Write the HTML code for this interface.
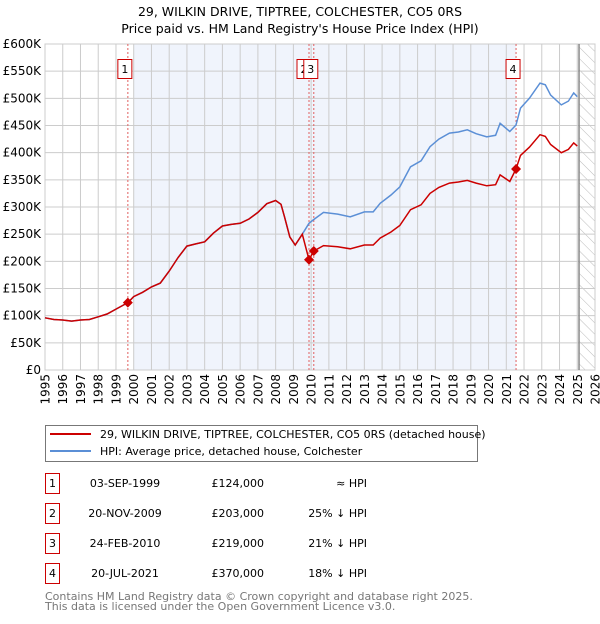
<!DOCTYPE html>
<html><head><meta charset="utf-8">
<style>
body{margin:0;background:#fff;font-family:"DejaVu Sans","Liberation Sans",sans-serif;}
svg text{font-family:"DejaVu Sans","Liberation Sans",sans-serif;}
</style></head>
<body>
<svg id="chart" width="600" height="620" xmlns="http://www.w3.org/2000/svg">
<defs>
<pattern id="hatch" patternUnits="userSpaceOnUse" width="8" height="8" patternTransform="rotate(-45)">
<line x1="0" y1="0" x2="0" y2="8" stroke="#bbb" stroke-width="1"/>
</pattern>
</defs>
<text x="300" y="16" text-anchor="middle" font-size="12.5" fill="#000">29, WILKIN DRIVE, TIPTREE, COLCHESTER, CO5 0RS</text>
<text x="300" y="33" text-anchor="middle" font-size="12.5" fill="#000">Price paid vs. HM Land Registry's House Price Index (HPI)</text>
<g id="plot"></g>
<g>
<rect x="45.5" y="425.5" width="432" height="36" fill="#fff" stroke="#777"/>
<line x1="50" y1="434" x2="91" y2="434" stroke="#cc0000" stroke-width="2"/>
<text x="100" y="438" font-size="11">29, WILKIN DRIVE, TIPTREE, COLCHESTER, CO5 0RS (detached house)</text>
<line x1="50" y1="451" x2="91" y2="451" stroke="#5b8fd6" stroke-width="2"/>
<text x="100" y="455" font-size="11">HPI: Average price, detached house, Colchester</text>
</g>
<g id="table" font-size="11"></g>
<text x="45" y="600" font-size="11" fill="#777">Contains HM Land Registry data © Crown copyright and database right 2025.</text>
<text x="45" y="610" font-size="11" fill="#777">This data is licensed under the Open Government Licence v3.0.</text>
</svg>
<script>
const years=[1995,1995.5,1996,1996.5,1997,1997.5,1998,1998.5,1999,1999.67,2000,2000.5,2001,2001.5,2002,2002.5,2003,2003.5,2004,2004.5,2005,2005.5,2006,2006.5,2007,2007.5,2008,2008.3,2008.5,2008.8,2009.1,2009.5,2009.88,2010.15,2010.7,2011.5,2012.2,2013,2013.5,2013.9,2014.5,2015,2015.6,2016.2,2016.7,2017.2,2017.8,2018.3,2018.8,2019.3,2019.9,2020.4,2020.65,2021.2,2021.55,2021.8,2022.3,2022.9,2023.2,2023.5,2024.1,2024.5,2024.8,2025.0];
const hpi=[96,93,92,90,92,93,98,103,112,124,135,143,153,160,182,207,228,232,236,252,265,268,270,278,290,306,312,305,282,245,230,250,270,277,290,287,282,291,291,307,322,337,374,385,411,425,436,438,442,435,429,432,454,439,451,482,500,528,525,506,488,495,510,503];
const price=[96,93,92,90,92,93,98,103,112,124,135,143,153,160,182,207,228,232,236,252,265,268,270,278,290,306,312,305,282,245,230,250,203,219,229,227,223,230,230,243,254,266,295,304,325,336,344,346,349,344,339,341,359,347,370,395,410,433,430,415,400,406,418,412];
const saleYears=[1999.67,2009.88,2010.15,2021.55];
const salePrices=[124,203,219,370];
const saleLabels=["1","2","3","4"];
const saleDates=["03-SEP-1999","20-NOV-2009","24-FEB-2010","20-JUL-2021"];
const salePriceText=["£124,000","£203,000","£219,000","£370,000"];
const saleHpiText=["≈ HPI","25% ↓ HPI","21% ↓ HPI","18% ↓ HPI"];
const yTicks=[0,50,100,150,200,250,300,350,400,450,500,550,600];
const yTickLabels=["£0","£50K","£100K","£150K","£200K","£250K","£300K","£350K","£400K","£450K","£500K","£550K","£600K"];
const xTicks=[1995,1996,1997,1998,1999,2000,2001,2002,2003,2004,2005,2006,2007,2008,2009,2010,2011,2012,2013,2014,2015,2016,2017,2018,2019,2020,2021,2022,2023,2024,2025,2026];

const X0=45,X1=595,Y0=370,Y1=44;
const xs=y=>X0+(y-1995)/(2026-1995)*(X1-X0);
const ys=v=>Y0-v/600*(Y0-Y1);
const NS="http://www.w3.org/2000/svg";
const plot=document.getElementById('plot');
function mk(tag,attrs,parent){const e=document.createElementNS(NS,tag);for(const k in attrs)e.setAttribute(k,attrs[k]);(parent||plot).appendChild(e);return e;}

let shade=mk('rect',{x:xs(2000),y:Y1,width:xs(saleYears[3])-xs(2000),height:Y0-Y1,fill:'#f0f4fc'});


let hat=mk('rect',{x:xs(2025.1),y:Y1,width:X1-xs(2025.1),height:Y0-Y1,fill:'url(#hatch)'});



xTicks.forEach(t=>{
  let l=mk('line',{x1:xs(t),x2:xs(t),y1:Y1,y2:Y0,stroke:'#ccc','stroke-width':1});
  
  
  const px=xs(t)+4.5,py=Y0+4;
  let tx=mk('text',{x:px,y:py,'text-anchor':'end','font-size':12,transform:`rotate(-90 ${px} ${py})`});
  
  
  tx.textContent=t;
});
yTicks.forEach((t,i)=>{
  let l=mk('line',{x1:X0,x2:X1,y1:ys(t),y2:ys(t),stroke:'#ccc','stroke-width':1});
  
  
  let tx=mk('text',{x:X0-4,y:ys(t)+4,'text-anchor':'end','font-size':12});
  
  
  tx.textContent=yTickLabels[i];
});
let border=mk('rect',{x:X0,y:Y1,width:X1-X0,height:Y0-Y1,fill:'none',stroke:'#ccc'});


let cut=mk('line',{x1:xs(2025.1),x2:xs(2025.1),y1:Y1,y2:Y0,stroke:'#888','stroke-width':1.5});



saleYears.forEach((y,i)=>{
  let l=mk('line',{x1:xs(y),x2:xs(y),y1:Y1,y2:Y0,stroke:'#e06060','stroke-dasharray':'2,2','stroke-width':1});
  
  
});

const pts=a=>years.map((y,i)=>xs(y).toFixed(1)+','+ys(a[i]).toFixed(1)).join(' ');
let hl=mk('polyline',{points:pts(hpi),fill:'none',stroke:'#5b8fd6','stroke-width':1.5});


let pl=mk('polyline',{points:pts(price),fill:'none',stroke:'#cc0000','stroke-width':1.5});



saleYears.forEach((y,i)=>{
  const cx=xs(y),cy=ys(salePrices[i]);
  let d=mk('polygon',{points:`${cx},${cy-5} ${cx+5},${cy} ${cx},${cy+5} ${cx-5},${cy}`,fill:'#cc0000'});
  
  
  const bx=(i==1?cx-12:cx-10);
  let b=mk('rect',{x:bx,y:59.5,width:14,height:19,fill:'#fff',stroke:'#cc0000'});
  
  
  let t=mk('text',{x:bx+7,y:73,'text-anchor':'middle','font-size':11});
  
  
  t.textContent=saleLabels[i];
});

const tbl=document.getElementById('table');
saleLabels.forEach((lab,i)=>{
  const cy=483+i*30;
  let g=mk('g',{},tbl);
  
  
  mk('rect',{x:45.5,y:cy-9.5,width:14,height:20,fill:'#fff',stroke:'#cc0000'},g);
  let a=mk('text',{x:52.5,y:cy+4,'text-anchor':'middle'},g);a.textContent=lab;
  let b=mk('text',{x:125,y:cy+4,'text-anchor':'middle'},g);b.textContent=saleDates[i];
  let c=mk('text',{x:264,y:cy+4,'text-anchor':'end'},g);c.textContent=salePriceText[i];
  let e=mk('text',{x:367,y:cy+4,'text-anchor':'end'},g);e.textContent=saleHpiText[i];
});
</script>
</body></html>
